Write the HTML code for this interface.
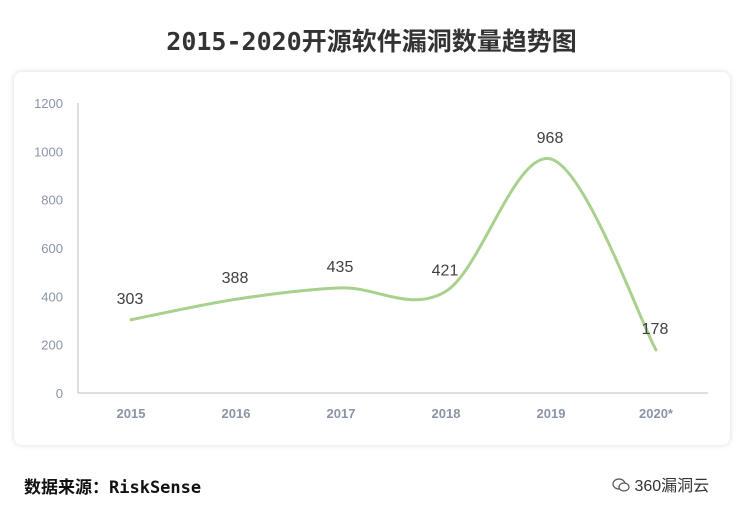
<!DOCTYPE html>
<html><head><meta charset="utf-8"><style>
body{margin:0;width:743px;height:510px;background:#fff;font-family:"Liberation Sans","Noto Sans CJK SC",sans-serif;overflow:hidden;position:relative}
.title{position:absolute;top:22px;left:0;width:743px;text-align:center;font-size:25px;font-weight:bold;color:#333;font-family:"DejaVu Sans Mono","Noto Sans CJK SC",monospace}
.card{position:absolute;left:14px;top:72px;width:716px;height:373px;border-radius:8px;box-shadow:0 0 6px rgba(0,0,0,0.15);background:#fff}
.src{position:absolute;left:24px;top:473px;font-size:17px;font-weight:bold;color:#111;font-family:"DejaVu Sans Mono","Noto Sans CJK SC",monospace}
.brand{position:absolute;left:612px;top:472px;font-size:16px;color:#333}
</style></head><body>
<div class="title">2015-2020开源软件漏洞数量趋势图</div>
<div class="card"></div>
<svg id="chart" width="743" height="510" style="position:absolute;left:0;top:0"></svg>
<div class="src">数据来源：RiskSense</div>
<div class="brand"><svg width="18" height="16" viewBox="0 0 18 16" style="vertical-align:-2px"><ellipse cx="7" cy="7" rx="6" ry="5" fill="none" stroke="#555" stroke-width="1.2"/><ellipse cx="12" cy="10" rx="5" ry="4" fill="#fff" stroke="#555" stroke-width="1.2"/></svg> 360漏洞云</div>
<script>
const categories=["2015","2016","2017","2018","2019","2020*"];
const values=[303,388,435,421,968,178];
const yTicks=[0,200,400,600,800,1000,1200];
const svg=document.getElementById('chart');const NS="http://www.w3.org/2000/svg";
const x0=78,x1=708,yb=393,yt=103,yMax=1200;
const xs=i=>131+i*105;const ys=v=>yb-(v/yMax)*(yb-yt);
function mk(t,a,txt){const e=document.createElementNS(NS,t);for(const k in a)e.setAttribute(k,a[k]);if(txt!==undefined)e.textContent=txt;svg.appendChild(e);return e;}
let e=mk('line',{x1:x0,y1:yt,x2:x0,y2:yb,stroke:'#bfbfbf','stroke-width':1});

e=mk('line',{x1:x0,y1:yb,x2:x1,y2:yb,stroke:'#bfbfbf','stroke-width':1});

yTicks.forEach(t=>{const el=mk('text',{x:63,y:ys(t)+5,'text-anchor':'end','font-size':13,fill:'#8a94a6'},t);
});
categories.forEach((c,i)=>{const el=mk('text',{x:xs(i),y:418,'text-anchor':'middle','font-size':13,fill:'#8a94a6','font-weight':'bold'},c);
});
const P=values.map((v,i)=>[xs(i),ys(v)]);
let d=`M${P[0][0]},${P[0][1]}`;
for(let i=0;i<P.length-1;i++){const p0=P[i-1]||P[i],p1=P[i],p2=P[i+1],p3=P[i+2]||P[i+1];
const c1=[p1[0]+(p2[0]-p0[0])/6,p1[1]+(p2[1]-p0[1])/6],c2=[p2[0]-(p3[0]-p1[0])/6,p2[1]-(p3[1]-p1[1])/6];
d+=` C${c1[0]},${c1[1]} ${c2[0]},${c2[1]} ${p2[0]},${p2[1]}`;}
e=mk('path',{d:d,fill:'none',stroke:'#a9d18e','stroke-width':3,'stroke-linecap':'round'});

values.forEach((v,i)=>{const el=mk('text',{x:xs(i)-1,y:ys(v)-16,'text-anchor':'middle','font-size':16,fill:'#404040'},v);
});
</script>
</body></html>
